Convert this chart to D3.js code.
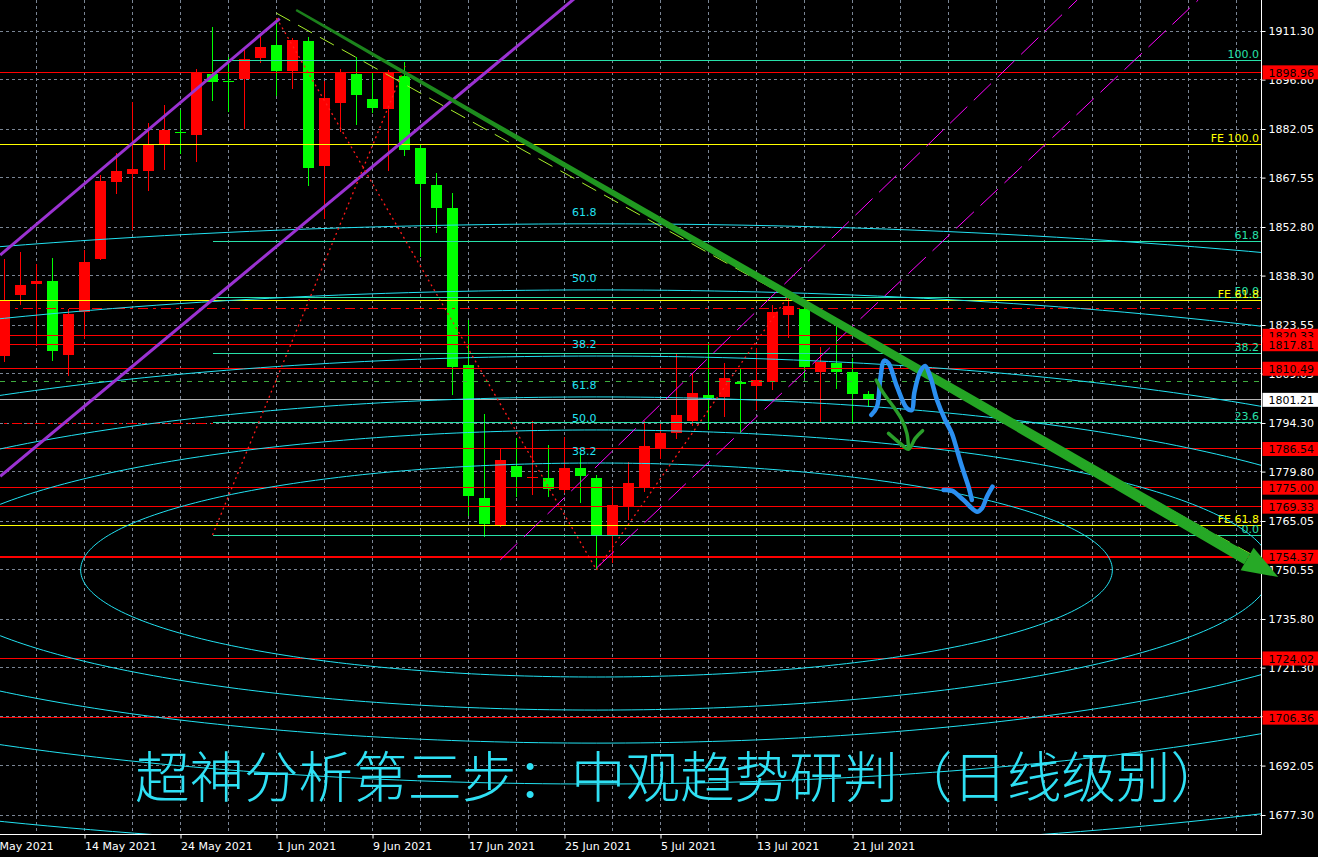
<!DOCTYPE html>
<html><head><meta charset="utf-8">
<script src="https://cdn.jsdelivr.net/npm/d3@7/dist/d3.min.js"></script>
<style>html,body{margin:0;padding:0;background:#000;overflow:hidden}</style>
</head><body><svg id="c" width="1318" height="857"></svg>
<script>
// ---------------- DATA ----------------
const dates = ["7 May","10 May","11 May","12 May","13 May","14 May","17 May","18 May","19 May","20 May","21 May",
  "24 May","25 May","26 May","27 May","28 May","31 May","1 Jun","2 Jun","3 Jun","4 Jun","7 Jun","8 Jun","9 Jun",
  "10 Jun","11 Jun","14 Jun","15 Jun","16 Jun","17 Jun","18 Jun","21 Jun","22 Jun","23 Jun","24 Jun","25 Jun",
  "28 Jun","29 Jun","30 Jun","1 Jul","2 Jul","5 Jul","6 Jul","7 Jul","8 Jul","9 Jul","12 Jul","13 Jul","14 Jul",
  "15 Jul","16 Jul","19 Jul","20 Jul","21 Jul","22 Jul"];
const open  = [1814.39,1832.50,1835.88,1836.68,1814.69,1827.34,1843.34,1866.32,1868.71,1869.51,1877.57,1881.10,1880.35,1898.47,1896.50,1896.97,1903.33,1907.12,1899.45,1908.32,1871.10,1889.90,1898.56,1891.00,1888.02,1897.96,1876.47,1865.33,1858.38,1811.61,1771.91,1763.86,1781.47,1778.00,1777.79,1774.39,1780.87,1777.79,1760.87,1769.14,1774.81,1786.54,1791.23,1794.99,1802.66,1801.97,1806.63,1805.34,1806.63,1826.53,1828.33,1809.61,1812.12,1809.52,1802.95];
const high  = [1843.25,1845.25,1841.76,1843.55,1828.24,1845.93,1868.32,1874.89,1890.11,1883.84,1889.21,1887.72,1899.96,1912.49,1903.45,1905.84,1910.40,1915.18,1909.12,1909.60,1896.29,1899.96,1903.45,1898.67,1899.66,1902.14,1877.27,1868.92,1862.95,1824.95,1796.99,1786.45,1789.91,1794.90,1787.73,1790.03,1785.26,1778.78,1774.51,1782.57,1794.99,1793.96,1815.11,1808.83,1818.27,1812.30,1810.81,1816.59,1829.52,1832.30,1829.52,1817.07,1824.06,1813.61,1803.85];
const low   = [1812.60,1829.52,1817.28,1812.89,1808.42,1819.28,1843.00,1862.74,1851.90,1863.54,1869.90,1874.50,1872.29,1890.41,1887.03,1881.96,1901.84,1891.90,1893.99,1865.13,1855.10,1881.24,1883.24,1886.92,1869.60,1874.08,1843.94,1851.10,1802.75,1766.54,1760.37,1763.35,1772.12,1772.81,1772.31,1773.32,1770.33,1750.43,1752.42,1765.35,1773.80,1783.56,1789.61,1793.40,1792.21,1796.19,1791.23,1798.18,1804.15,1819.76,1807.82,1794.69,1804.45,1793.96,1799.17];
const close = [1831.01,1835.49,1836.68,1815.88,1826.83,1842.35,1866.53,1869.51,1870.11,1877.27,1881.75,1880.80,1899.06,1896.17,1896.20,1902.94,1906.43,1899.45,1908.61,1870.50,1891.30,1898.67,1892.20,1888.41,1898.85,1875.87,1865.73,1858.56,1811.10,1772.60,1764.24,1783.26,1778.27,1778.20,1774.60,1780.87,1778.57,1760.87,1769.83,1776.48,1787.53,1791.23,1796.69,1803.16,1801.85,1807.82,1805.85,1807.13,1827.43,1829.22,1810.92,1812.60,1809.61,1802.95,1801.21];

const priceTicks = [1911.30,1896.80,1882.05,1867.55,1852.80,1838.30,1823.55,1809.05,1794.30,1779.80,1765.05,1750.55,1735.80,1721.30,1706.80,1692.05,1677.30];
const priceTickLabels = ["1911.30","1896.80","1882.05","1867.55","1852.80","1838.30","1823.55","1809.05","1794.30","1779.80","1765.05","1750.55","1735.80","1721.30","1706.80","1692.05","1677.30"];
const dateTickBars = [-1,5,11,17,23,29,35,41,47,53];
const dateTickLabels = ["6 May 2021","14 May 2021","24 May 2021","1 Jun 2021","9 Jun 2021","17 Jun 2021","25 Jun 2021","5 Jul 2021","13 Jul 2021","21 Jul 2021"];

const redLevels = [1898.96,1820.33,1817.81,1810.49,1786.54,1775.00,1769.33,1754.37,1724.02,1706.36];
const bidPrice = 1801.21;
const redDashLevel = 1828.62;
const redDashShort = {price:1794.30, from:-1, to:13};
const greenDashLevel = 1806.83;
const feLevels = [1877.48,1831.01,1763.76];
const feLabels = ["FE 100.0","FE 61.8","FE 61.8"];
const fibLevels = [0,23.6,38.2,50,61.8,100];
const fibLabels = ["0.0","23.6","38.2","50.0","61.8","100.0"];
const fibLow = 1760.87, fibHigh = 1902.64, fibStartBar = 13;
const arcLevels = [38.2,50,61.8];
const arcLabels = ["38.2","50.0","61.8"];
const arcCenter = [37,1750.42];
const arcBases = [[84.4,83.6],[168.8,167.2]];   // [bars, price] for 100%

const purpleLines = [[[-0.27,1844.44],[17.2,1915.0]], [[-0.27,1778.39],[35.89,1922.04]]];
const redDotted = [[[17,1915.18],[37,1750.43]], [[13,1760.87],[25.04,1900.85]], [[37,1750.43],[49,1832.30]]];
const magentaLines = [[[30.98,1753.41],[67.04,1920.55]], [[37,1751.02],[74.61,1920.55]]];
const yellowGreenLine = [[16.98,1916.67],[78.23,1754.30]];
const greenArrow = [[18.23,1917.57],[79.61,1748.33]];

const blueScribble = [[54.17,1796.69],[54.53,1799.16],[54.73,1807.13],[54.98,1812.89],[55.25,1812.12],[55.78,1805.13],[56.40,1798.69],[56.71,1798.18],[56.86,1803.25],[57.23,1809.61],[57.54,1811.31],[57.86,1808.12],[58.28,1801.16],[58.79,1795.19],[59.21,1791.22],[59.53,1786.24],[59.84,1781.26],[60.25,1775.29],[60.46,1771.32]];
const blueHook = [[58.69,1774.30],[59.21,1774.09],[59.94,1771.32],[60.78,1767.83],[61.09,1768.84],[61.40,1772.30],[61.75,1775.29]];
const greenScribble = [[54.48,1807.13],[54.94,1803.16],[55.56,1799.16],[56.09,1795.19],[56.40,1791.22],[56.50,1786.75]];
const greenHook = [[55.25,1791.22],[55.98,1788.24],[56.50,1786.45],[56.92,1789.73],[57.38,1792.00]];

const title = "超神分析第三步：中观趋势研判（日线级别）";

// ---------------- LAYOUT ----------------
const W = 1318, H = 857, plotR = 1261.5, plotB = 834.5;
const x = d3.scaleLinear().domain([0,54]).range([4.5,868.5]);
const y = d3.scaleLinear().domain([1677.30,1911.30]).range([815,31]);
const font = "'DejaVu Sans', Tahoma, sans-serif";

const svg = d3.select("#c");
svg.append("rect").attr("width",W).attr("height",H).attr("fill","#000");
svg.append("defs").append("clipPath").attr("id","plot")
  .append("rect").attr("x",0).attr("y",0).attr("width",plotR).attr("height",plotB);

const g = svg.append("g").attr("clip-path","url(#plot)");
const snap = v => Math.round(v) + 0.5;

// grid
const gridColor = "#7a8594";
g.append("g").selectAll("line").data(priceTicks).join("line")
  .attr("x1",0).attr("x2",plotR).attr("y1",d=>snap(y(d)-0.5)).attr("y2",d=>snap(y(d)-0.5))
  .attr("stroke",gridColor).attr("stroke-dasharray","3,3").attr("shape-rendering","crispEdges");
const gridBars = d3.range(2, 79, 3);
g.append("g").selectAll("line").data(gridBars).join("line")
  .attr("x1",d=>x(d)).attr("x2",d=>x(d)).attr("y1",0).attr("y2",plotB)
  .attr("stroke",gridColor).attr("stroke-dasharray","3,3").attr("shape-rendering","crispEdges");

// candles
const candles = open.map((o,i)=>({i, o, h:high[i], l:low[i], c:close[i]}));
const col = d => d.c >= d.o ? "#ff0000" : "#00ff00";
const cg = g.append("g").attr("shape-rendering","crispEdges");
cg.selectAll("line").data(candles).join("line")
  .attr("x1",d=>x(d.i)).attr("x2",d=>x(d.i)).attr("y1",d=>y(d.h)).attr("y2",d=>y(d.l)).attr("stroke",col);
cg.selectAll("rect").data(candles).join("rect")
  .attr("x",d=>x(d.i)-5.5).attr("width",11)
  .attr("y",d=>y(Math.max(d.o,d.c))).attr("height",d=>Math.max(1,Math.abs(y(d.o)-y(d.c))))
  .attr("fill",col);

// horizontal objects
function hline(p, x0, x1, color, w, dash){
  const yy = w>=2 ? y(p) : snap(y(p)-0.5);
  const l = g.append("line").attr("x1",x0).attr("x2",x1).attr("y1",yy).attr("y2",yy)
    .attr("stroke",color).attr("stroke-width",w).attr("shape-rendering","crispEdges");
  if (dash) l.attr("stroke-dasharray",dash);
}
redLevels.forEach(p => hline(p, 0, plotR, "#ff0000", p===1754.37 ? 2.5 : 1));
hline(redDashLevel, 0, plotR, "#ff0000", 1, "10,5,3,5");
hline(redDashShort.price, x(redDashShort.from), x(redDashShort.to), "#ff0000", 1, "10,5,3,5");
hline(greenDashLevel, 0, plotR, "#3fae3f", 1, "5,6");
hline(bidPrice, 0, plotR, "#b4b4b4", 1);
feLevels.forEach(p => hline(p, 0, plotR, "#ffff00", 1));

// fib retracement
const teal = "#27e0a8";
fibLevels.forEach((lv,i)=>{
  const p = fibLow + (fibHigh-fibLow)*lv/100;
  hline(p, x(fibStartBar), plotR, teal, 1);
  g.append("text").attr("x",plotR-2.5).attr("y",y(p)-2.5).attr("text-anchor","end")
    .attr("font-family",font).attr("font-size",11).attr("fill",teal).text(fibLabels[i]);
});
feLevels.forEach((p,i)=>{
  g.append("text").attr("x",plotR-2.5).attr("y",y(p)-2.5).attr("text-anchor","end")
    .attr("font-family",font).attr("font-size",11).attr("fill","#ffff00").text(feLabels[i]);
});

// fib arcs (ellipses)
const cyan = "#22e2f2";
const ellLine = d3.line().curve(d3.curveLinearClosed);
const angles = d3.range(0, 360, 1).map(a => a*Math.PI/180);
arcBases.forEach(base=>{
  arcLevels.forEach((lv,j)=>{
    const rb = base[0]*lv/100, rp = base[1]*lv/100;
    const pts = angles.map(t => [x(arcCenter[0] + rb*Math.cos(t)), y(arcCenter[1] + rp*Math.sin(t))]);
    g.append("path").attr("d", ellLine(pts)).attr("fill","none").attr("stroke",cyan).attr("stroke-width",1);
    g.append("text").attr("x",x(arcCenter[0])).attr("y",y(arcCenter[1]+rp)-8).attr("text-anchor","end")
      .attr("font-family",font).attr("font-size",11).attr("fill",cyan).text(arcLabels[j]);
  });
});

// trend lines
function seg(pts, color, w, dash){
  const l = g.append("line").attr("x1",x(pts[0][0])).attr("y1",y(pts[0][1]))
    .attr("x2",x(pts[1][0])).attr("y2",y(pts[1][1])).attr("stroke",color).attr("stroke-width",w);
  if (dash) l.attr("stroke-dasharray",dash);
}
purpleLines.forEach(p => seg(p, "#9b32d2", 3));
redDotted.forEach(p => seg(p, "#ff1a1a", 1.3, "2,3.5"));
magentaLines.forEach(p => seg(p, "#ff00ff", 1, "24,9"));
seg(yellowGreenLine, "#a8f02a", 1, "16,9");

// frame & axes
svg.append("line").attr("x1",plotR).attr("x2",plotR).attr("y1",0).attr("y2",plotB).attr("stroke","#fff");
svg.append("line").attr("x1",0).attr("x2",plotR).attr("y1",plotB).attr("y2",plotB).attr("stroke","#fff");

const ya = svg.append("g").attr("transform",`translate(${plotR},0)`)
  .call(d3.axisRight(y).tickValues(priceTicks).tickFormat((d,i)=>priceTickLabels[i]).tickSize(4).tickPadding(3));
ya.select(".domain").remove();
ya.selectAll("line").attr("stroke","#fff");
ya.selectAll("text").attr("fill","#fff").attr("font-family",font).attr("font-size",11);

const xa = svg.append("g").attr("transform",`translate(0,${plotB})`)
  .call(d3.axisBottom(x).tickValues(dateTickBars).tickFormat((d,i)=>dateTickLabels[i]).tickSize(4).tickPadding(4));
xa.select(".domain").remove();
xa.selectAll("line").attr("stroke","#fff");
xa.selectAll("text").attr("fill","#fff").attr("font-family",font).attr("font-size",11).attr("text-anchor","start").attr("dx",0);

// price label boxes
function priceBox(p, bg, fg){
  const yy = y(p);
  svg.append("rect").attr("x",plotR+1).attr("y",yy-7).attr("width",W-plotR-1).attr("height",14).attr("fill",bg);
  svg.append("text").attr("x",plotR+7).attr("y",yy+4.5).attr("fill",fg)
    .attr("font-family",font).attr("font-size",11).text(p.toFixed(2));
}
redLevels.forEach(p => priceBox(p, "#ff0000", "#000"));
priceBox(bidPrice, "#ffffff", "#000");

// title
svg.append("text").attr("x",135).attr("y",797)
  .attr("font-family","'Noto Sans CJK SC', sans-serif").attr("font-weight",300).attr("font-size",54.5)
  .attr("fill","#2fe0f4").text(title);

// green trend arrow (tapered)
(function(){
  const s = [x(greenArrow[0][0]), y(greenArrow[0][1])];
  const t = [x(greenArrow[1][0]), y(greenArrow[1][1])];
  const dx = t[0]-s[0], dy = t[1]-s[1], len = Math.hypot(dx,dy);
  const u = [dx/len, dy/len], n = [-u[1], u[0]];
  const headLen = 36, headHalf = 13;
  const b = [t[0]-u[0]*headLen, t[1]-u[1]*headLen];
  const N = 30, left = [], right = [];
  for (let k=0;k<=N;k++){
    const f = k/N, px = s[0]+(b[0]-s[0])*f, py = s[1]+(b[1]-s[1])*f, w = (2.5 + 9.5*f)/2;
    left.push([px+n[0]*w, py+n[1]*w]); right.push([px-n[0]*w, py-n[1]*w]);
  }
  const grad = svg.append("defs").append("linearGradient").attr("id","gg").attr("gradientUnits","userSpaceOnUse")
    .attr("x1",s[0]).attr("y1",s[1]).attr("x2",t[0]).attr("y2",t[1]);
  grad.append("stop").attr("offset",0).attr("stop-color","#1b7f1b");
  grad.append("stop").attr("offset",0.45).attr("stop-color","#22a122");
  grad.append("stop").attr("offset",1).attr("stop-color","#26a926");
  const body = left.concat(right.reverse());
  svg.append("path").attr("d", d3.line()(body)+"Z").attr("fill","url(#gg)");
  const head = [[b[0]+n[0]*headHalf, b[1]+n[1]*headHalf], t, [b[0]-n[0]*headHalf, b[1]-n[1]*headHalf]];
  svg.append("path").attr("d", d3.line()(head)+"Z").attr("fill","#26a926");
})();

// hand-drawn scribbles
const sl = d3.line().x(d=>x(d[0])).y(d=>y(d[1])).curve(d3.curveCatmullRom.alpha(0.5));
[[blueScribble,"#2b8ff0",4.5],[blueHook,"#2b8ff0",4.5],[greenScribble,"#2a9e2a",3.5],[greenHook,"#2a9e2a",3.5]].forEach(([pts,c,w])=>{
  svg.append("path").attr("d",sl(pts)).attr("fill","none").attr("stroke",c).attr("stroke-width",w)
    .attr("stroke-linecap","round").attr("stroke-linejoin","round");
});
</script></body></html>
